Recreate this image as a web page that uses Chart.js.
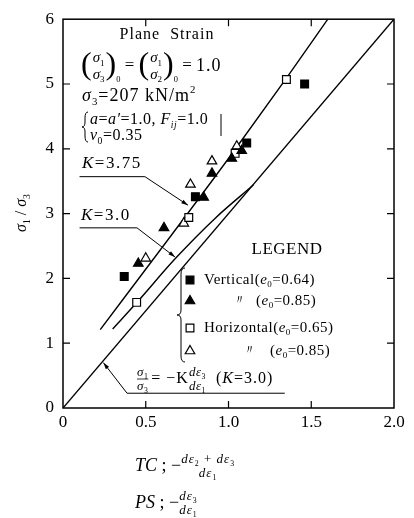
<!DOCTYPE html>
<html>
<head>
<meta charset="utf-8">
<script src="https://cdn.jsdelivr.net/npm/chart.js@4.4.0/dist/chart.umd.min.js"></script>
<style>
  html, body { margin: 0; padding: 0; background: #fff; }
  #wrap { width: 414px; height: 518px; }
</style>
</head>
<body>
<div id="wrap"><canvas id="myChart" width="414" height="518"></canvas></div>
<script>
// measured points, x = -dε3/dε1, y = σ1/σ3
const verticalDense = [[0.37, 2.03], [0.80, 3.26], [1.11, 4.09], [1.46, 5.00]];
const verticalLoose = [[0.455, 2.23], [0.61, 2.78], [0.85, 3.25], [0.90, 3.62], [1.02, 3.85], [1.08, 3.97]];
const horizontalDense = [[0.445, 1.63], [0.76, 2.94], [1.04, 3.93], [1.35, 5.07]];
const horizontalLoose = [[0.50, 2.31], [0.73, 2.85], [0.77, 3.45], [0.90, 3.81], [1.05, 4.04]];

// predicted curves
const curveK375 = [[0.225, 1.21], [0.65, 2.65], [1.02, 3.92], [1.35, 5.09], [1.60, 6.0]];
const curveK30 = [[0.30, 1.22], [0.45, 1.64], [0.68, 2.31], [0.92, 2.93], [1.15, 3.44]];
const limitLine = [[0, 0], [2.0, 6.0]];

const xTicks = [0, 0.5, 1.0, 1.5, 2.0];
const yTicks = [0, 1, 2, 3, 4, 5, 6];

const serif = '"Liberation Serif", "DejaVu Serif", serif';
const toPts = arr => arr.map(([x, y]) => ({ x, y }));

const setFont = (ctx, size, italic) => {
  ctx.font = (italic ? "italic " : "") + size + "px " + serif;
};

// parts: [text, {i: italic, sub, sup, size}]
const richWidth = (ctx, parts, size) => {
  let w = 0;
  for (const [t, o = {}] of parts) {
    setFont(ctx, o.sub || o.sup ? size * 0.6 : (o.size || size), o.i);
    w += ctx.measureText(t).width;
  }
  return w;
};
const rich = (ctx, x, y, parts, size) => {
  let cx = x;
  for (const [t, o = {}] of parts) {
    const s = o.sub || o.sup ? size * 0.6 : (o.size || size);
    setFont(ctx, s, o.i);
    const dy = o.sub ? size * 0.32 : o.sup ? -size * 0.35 : 0;
    ctx.fillText(t, cx, y + dy);
    cx += ctx.measureText(t).width;
  }
  return cx - x;
};
const frac = (ctx, x, y, num, den, size, bar) => {
  const wn = richWidth(ctx, num, size), wd = richWidth(ctx, den, size);
  const w = Math.max(wn, wd);
  rich(ctx, x + (w - wn) / 2, y - size * 0.5, num, size);
  rich(ctx, x + (w - wd) / 2, y + size * 0.6, den, size);
  if (bar !== false) {
    ctx.beginPath();
    ctx.moveTo(x, y);
    ctx.lineTo(x + w, y);
    ctx.lineWidth = 0.8;
    ctx.stroke();
  }
  return w;
};
const arrowLine = (ctx, pts) => {
  ctx.beginPath();
  ctx.moveTo(pts[0][0], pts[0][1]);
  for (const p of pts.slice(1)) ctx.lineTo(p[0], p[1]);
  ctx.lineWidth = 1;
  ctx.stroke();
  const [a, b] = pts.slice(-2);
  const ang = Math.atan2(b[1] - a[1], b[0] - a[0]);
  ctx.beginPath();
  ctx.moveTo(b[0], b[1]);
  ctx.lineTo(b[0] - 7 * Math.cos(ang - 0.3), b[1] - 7 * Math.sin(ang - 0.3));
  ctx.lineTo(b[0] - 7 * Math.cos(ang + 0.3), b[1] - 7 * Math.sin(ang + 0.3));
  ctx.closePath();
  ctx.fill();
};
const brace = (ctx, x, top, bottom, w) => {
  const mid = (top + bottom) / 2;
  ctx.beginPath();
  ctx.moveTo(x + w, top);
  ctx.quadraticCurveTo(x, top, x, top + 6);
  ctx.lineTo(x, mid - 5);
  ctx.quadraticCurveTo(x, mid, x - w, mid);
  ctx.quadraticCurveTo(x, mid, x, mid + 5);
  ctx.lineTo(x, bottom - 6);
  ctx.quadraticCurveTo(x, bottom, x + w, bottom);
  ctx.lineWidth = 1;
  ctx.stroke();
};

// frame with inward ticks on all four sides
const framePlugin = {
  id: "frame",
  afterDatasetsDraw(chart) {
    const { ctx, chartArea: a, scales } = chart;
    ctx.save();
    ctx.strokeStyle = "#000";
    ctx.lineWidth = 1.5;
    ctx.strokeRect(a.left, a.top, a.right - a.left, a.bottom - a.top);
    ctx.lineWidth = 1.2;
    ctx.beginPath();
    xTicks.slice(1, -1).forEach(v => {
      const x = scales.x.getPixelForValue(v);
      ctx.moveTo(x, a.bottom); ctx.lineTo(x, a.bottom - 7);
      ctx.moveTo(x, a.top); ctx.lineTo(x, a.top + 7);
    });
    yTicks.slice(1, -1).forEach(v => {
      const y = scales.y.getPixelForValue(v);
      ctx.moveTo(a.left, y); ctx.lineTo(a.left + 7, y);
      ctx.moveTo(a.right, y); ctx.lineTo(a.right - 7, y);
    });
    ctx.stroke();
    ctx.restore();
  },
};

const markerStyles = [
  { style: "rect", fill: "#000", r: 5.5 },
  { style: "triangle", fill: "#000", r: 5.5 },
  { style: "rect", fill: "#fff", r: 5.5 },
  { style: "triangle", fill: "#fff", r: 5.5 },
];

// texts, legend and leaders
const notesPlugin = {
  id: "notes",
  afterDraw(chart) {
    const { ctx, scales } = chart;
    const X = v => scales.x.getPixelForValue(v);
    const Y = v => scales.y.getPixelForValue(v);
    ctx.save();
    ctx.fillStyle = "#000";
    ctx.strokeStyle = "#000";
    ctx.textBaseline = "middle";
    ctx.textAlign = "left";

    // title block
    ctx.letterSpacing = "1px";
    setFont(ctx, 16);
    ctx.textAlign = "center";
    ctx.fillText("Plane  Strain", 167, 35);
    ctx.textAlign = "left";
    ctx.letterSpacing = "0px";

    let x = 81, y = 66;
    const s1 = [["σ", { i: 1 }], ["1", { sub: 1 }]];
    for (const d of ["3", "2"]) {
      x += rich(ctx, x, y, [["(", { size: 32 }]], 16);
      x += frac(ctx, x + 1, y, s1, [["σ", { i: 1 }], [d, { sub: 1 }]], 15, false) + 2;
      x += rich(ctx, x, y, [[")", { size: 32 }]], 16);
      x += rich(ctx, x, y + 9, [["0", { sub: 1 }]], 14);
      x += rich(ctx, x, y, [[" = "]], 17);
    }
    ctx.letterSpacing = "1px";
    rich(ctx, x, y, [["1.0"]], 18);

    rich(ctx, 82, 96, [["σ", { i: 1 }], ["3", { sub: 1 }], ["=207 kN/m"], ["2", { sup: 1 }]], 18);
    brace(ctx, 85, 112, 142, 3);
    ctx.letterSpacing = "0.5px";
    rich(ctx, 90, 120, [["a", { i: 1 }], ["=", {}], ["a′", { i: 1 }], ["=1.0, "], ["F", { i: 1 }], ["ij", { sub: 1, i: 1 }], ["=1.0"]], 16);
    ctx.beginPath(); ctx.moveTo(221, 114); ctx.lineTo(221, 136); ctx.lineWidth = 1; ctx.stroke();
    rich(ctx, 90, 136, [["ν", { i: 1 }], ["0", { sub: 1 }], ["=0.35"]], 16);

    // K labels with leaders
    ctx.letterSpacing = "1.5px";
    rich(ctx, 82, 164, [["K", { i: 1 }], ["=3.75"]], 17);
    rich(ctx, 81, 216, [["K", { i: 1 }], ["=3.0"]], 17);
    ctx.letterSpacing = "0px";
    arrowLine(ctx, [[X(0.1), Y(3.57)], [X(0.495), Y(3.57)], [X(0.755), Y(3.13)]]);
    arrowLine(ctx, [[X(0.1), Y(2.78)], [X(0.447), Y(2.78)], [X(0.677), Y(2.33)]]);

    // legend
    ctx.letterSpacing = "0.5px";
    setFont(ctx, 17);
    ctx.textAlign = "center";
    ctx.fillText("LEGEND", 287, 250);
    ctx.textAlign = "left";
    brace(ctx, 181, 268, 362, 4);
    const rowsY = [280, 301, 328, 351];
    const e0 = v => [["(", {}], ["e", { i: 1 }], ["0", { sub: 1 }], ["=" + v + ")"]];
    ctx.lineWidth = 1.2;
    rowsY.forEach((ry, k) => {
      const m = markerStyles[k];
      ctx.fillStyle = m.fill;
      Chart.helpers.drawPoint(ctx, { pointStyle: m.style, radius: m.r, borderWidth: 1.2, rotation: 0 }, 190, ry);
    });
    ctx.fillStyle = "#000";
    rich(ctx, 204, rowsY[0], [["Vertical"]].concat(e0("0.64")), 15);
    rich(ctx, 233, rowsY[1], [["〃", { size: 13 }]], 15);
    rich(ctx, 256, rowsY[1], e0("0.85"), 15);
    rich(ctx, 204, rowsY[2], [["Horizontal"]].concat(e0("0.65")), 15);
    rich(ctx, 243, rowsY[3], [["〃", { size: 13 }]], 15);
    rich(ctx, 270, rowsY[3], e0("0.85"), 15);

    // limit line equation
    x = 137; y = 379;
    x += frac(ctx, x, y, s1, [["σ", { i: 1 }], ["3", { sub: 1 }]], 13) + 3;
    ctx.letterSpacing = "1px";
    x += rich(ctx, x, y, [["= −K", {}]], 16);
    ctx.letterSpacing = "0.5px";
    x += frac(ctx, x, y, [["dε", { i: 1 }], ["3", { sub: 1 }]], [["dε", { i: 1 }], ["1", { sub: 1 }]], 13, false) + 10;
    ctx.letterSpacing = "1px";
    rich(ctx, x, y, [["(", {}], ["K", { i: 1 }], ["=3.0)"]], 16);
    ctx.letterSpacing = "0px";
    arrowLine(ctx, [[X(1.34), Y(0.228)], [X(0.387), Y(0.228)], [X(0.244), Y(0.70)]]);

    // axis titles
    ctx.save();
    ctx.translate(22, 213);
    ctx.rotate(-Math.PI / 2);
    const yt = [["σ", { i: 1 }], ["1", { sub: 1 }], [" / "], ["σ", { i: 1 }], ["3", { sub: 1 }]];
    rich(ctx, -richWidth(ctx, yt, 16) / 2, 0, yt, 16);
    ctx.restore();

    x = 135; y = 466;
    x += rich(ctx, x, y, [["TC", { i: 1 }], [" ; −"]], 18);
    ctx.letterSpacing = "1px";
    frac(ctx, x, y, [["dε", { i: 1 }], ["2", { sub: 1 }], [" + "], ["dε", { i: 1 }], ["3", { sub: 1 }]], [["dε", { i: 1 }], ["1", { sub: 1 }]], 13, false);
    ctx.letterSpacing = "0px";
    x = 135; y = 503;
    x += rich(ctx, x, y, [["PS", { i: 1 }], [" ; −"]], 18);
    ctx.letterSpacing = "1px";
    frac(ctx, x, y, [["dε", { i: 1 }], ["3", { sub: 1 }]], [["dε", { i: 1 }], ["1", { sub: 1 }]], 13, false);
    ctx.restore();
  },
};

const lineSet = pts => ({
  data: toPts(pts),
  showLine: true,
  borderColor: "#000",
  borderWidth: 1.4,
  pointRadius: 0,
  fill: false,
  cubicInterpolationMode: "monotone",
});
const markerSet = (pts, k) => ({
  data: toPts(pts),
  showLine: false,
  pointStyle: markerStyles[k].style,
  pointRadius: markerStyles[k].r,
  backgroundColor: markerStyles[k].fill,
  borderColor: "#000",
  borderWidth: 1.2,
});

document.addEventListener("DOMContentLoaded", () => {
  const ctx = document.getElementById("myChart");
  new Chart(ctx, {
    type: "scatter",
    data: {
      datasets: [
        markerSet(verticalDense, 0),
        markerSet(verticalLoose, 1),
        markerSet(horizontalDense, 2),
        markerSet(horizontalLoose, 3),
        lineSet(curveK375),
        lineSet(curveK30),
        lineSet(limitLine),
      ],
    },
    options: {
      responsive: false,
      animation: false,
      layout: { padding: { left: 0, right: 20, top: 13, bottom: 0 } },
      plugins: { legend: { display: false }, tooltip: { enabled: false } },
      scales: {
        x: {
          type: "linear",
          min: 0,
          max: 2,
          afterBuildTicks: s => { s.ticks = xTicks.map(v => ({ value: v })); },
          afterFit: s => { s.height = 110; },
          grid: { display: false, drawTicks: false },
          border: { display: false },
          ticks: {
            padding: 4,
            color: "#000",
            font: { family: serif, size: 17 },
            callback: v => (v === 0 ? "0" : v.toFixed(1)),
          },
        },
        y: {
          type: "linear",
          min: 0,
          max: 6,
          afterBuildTicks: s => { s.ticks = yTicks.map(v => ({ value: v })); },
          afterFit: s => { s.width = 63; },
          grid: { display: false, drawTicks: false },
          border: { display: false },
          ticks: {
            padding: 9,
            color: "#000",
            font: { family: serif, size: 17 },
          },
        },
      },
    },
    plugins: [framePlugin, notesPlugin],
  });
});
</script>
</body>
</html>
